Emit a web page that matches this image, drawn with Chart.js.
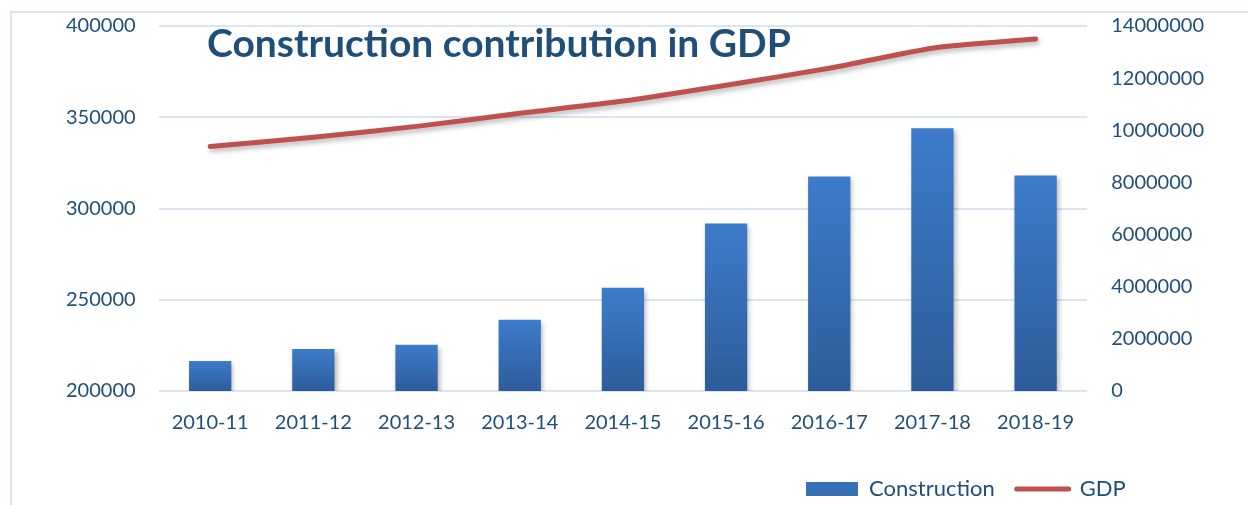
<!DOCTYPE html>
<html>
<head>
<meta charset="utf-8">
<script src="https://cdn.jsdelivr.net/npm/chart.js@4/dist/chart.umd.min.js"></script>
<style>
  body { margin: 0; background: #fff; }
  #wrap { position: relative; width: 1248px; height: 505px; overflow: hidden; }
  #frame { position: absolute; left: 10px; top: 11px; width: 1300px; height: 600px;
           border-left: 2px solid #d7e4f4; border-top: 2px solid #d7e4f4; }
  canvas { position: absolute; left: 0; top: 0; }
</style>
</head>
<body>
<div id="wrap">
  <div id="frame"></div>
  <canvas id="chart-id" width="1248" height="505"></canvas>
</div>
<script>
// chart data
const years = ["2010-11", "2011-12", "2012-13", "2013-14", "2014-15", "2015-16", "2016-17", "2017-18", "2018-19"];
const construction = [216500, 223000, 225300, 239000, 256600, 291800, 317600, 344000, 318100];
const gdp = [9380000, 9730000, 10150000, 10650000, 11120000, 11730000, 12380000, 13150000, 13500000];

const textBlue = "#1f4e79";
const font = { family: "Lato", size: 20 };

// bar fill: lighter at each bar's top, darker at the base
function barFill(ctx) {
  const chart = ctx.chart;
  const area = chart.chartArea;
  if (!area || ctx.raw === undefined) return "#3570b8";
  const top = chart.scales.y.getPixelForValue(ctx.raw);
  const g = chart.ctx.createLinearGradient(0, top, 0, area.bottom);
  g.addColorStop(0, "#3c7ccb");
  g.addColorStop(1, "#2e5c9a");
  return g;
}

// tick padding also pads the top/bottom of vertical axes, undo that
function trimPad(scale) {
  scale.paddingTop = 0;
  scale.paddingBottom = 0;
}

const shadowPlugin = {
  id: "shadow",
  beforeDatasetDraw(chart) {
    const c = chart.ctx;
    c.save();
    c.shadowColor = "rgba(0,0,0,0.28)";
    c.shadowBlur = 5;
    c.shadowOffsetX = 2;
    c.shadowOffsetY = 3;
  },
  afterDatasetDraw(chart) {
    chart.ctx.restore();
  }
};

const titlePlugin = {
  id: "insideTitle",
  afterDraw(chart) {
    const c = chart.ctx;
    c.save();
    c.font = "bold 39px Lato";
    c.fillStyle = textBlue;
    c.textBaseline = "alphabetic";
    c.fillText("Construction contribution in GDP", 207, 57);
    c.restore();
  }
};

// move legend to the lower right like the original
const legendPlace = {
  id: "legendPlace",
  beforeDraw(chart) {
    const lg = chart.legend;
    lg.left = 784;
    lg.right = 1248;
    lg.width = lg.right - lg.left;
    lg.top = 456;
  }
};

new Chart(document.getElementById("chart-id"), {
  type: "bar",
  data: {
    labels: years,
    datasets: [
      {
        label: "Construction",
        data: construction,
        yAxisID: "y",
        backgroundColor: barFill,
        categoryPercentage: 1,
        barPercentage: 0.41,
        order: 1
      },
      {
        type: "line",
        label: "GDP",
        data: gdp,
        yAxisID: "y1",
        borderColor: "#c0504d",
        backgroundColor: "#c0504d",
        borderWidth: 5,
        borderCapStyle: "round",
        pointRadius: 0,
        tension: 0.2,
        order: 0
      }
    ]
  },
  options: {
    responsive: false,
    animation: false,
    layout: { padding: { left: 43, right: 20, top: 26, bottom: 4 } },
    plugins: {
      title: { display: false },
      tooltip: { enabled: false },
      legend: {
        display: true,
        position: "bottom",
        align: "start",
        labels: {
          font: { family: "Lato", size: 22 },
          color: textBlue,
          usePointStyle: true,
          pointStyleWidth: 52,
          boxHeight: 14,
          padding: 22,
          generateLabels(chart) {
            return chart.data.datasets.map((ds, i) => ({
              text: ds.label,
              datasetIndex: i,
              fillStyle: i === 0 ? "#3570b8" : "#c0504d",
              strokeStyle: i === 0 ? "#3570b8" : "#c0504d",
              lineWidth: i === 0 ? 0 : 5,
              lineCap: "round",
              pointStyle: i === 0 ? "rect" : "line",
              fontColor: textBlue,
              hidden: false
            }));
          }
        }
      }
    },
    scales: {
      x: {
        grid: { display: false },
        border: { display: false },
        ticks: { font: font, color: textBlue, padding: 12 }
      },
      y: {
        position: "left",
        min: 200000,
        max: 400000,
        afterFit: trimPad,
        grid: { color: "#d9e5f3", lineWidth: 2, drawTicks: false },
        border: { display: false },
        ticks: { stepSize: 50000, font: font, color: textBlue, padding: 23, callback: v => String(v) }
      },
      y1: {
        position: "right",
        min: 0,
        max: 14000000,
        afterFit: trimPad,
        grid: { display: false, drawTicks: false },
        border: { display: false },
        ticks: { stepSize: 2000000, font: font, color: textBlue, padding: 24, callback: v => String(v) }
      }
    }
  },
  plugins: [shadowPlugin, titlePlugin, legendPlace]
});
</script>
</body>
</html>
